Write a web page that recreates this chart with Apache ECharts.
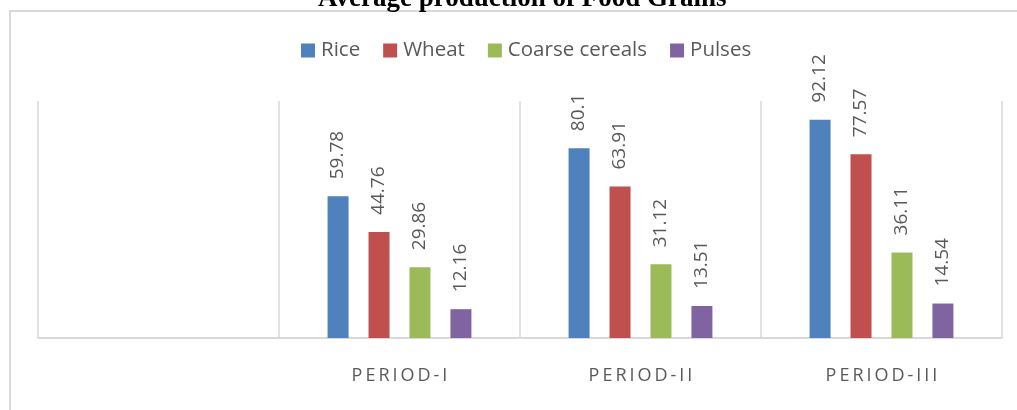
<!DOCTYPE html>
<html>
<head>
<meta charset="utf-8">
<script src="https://cdn.jsdelivr.net/npm/echarts@6/dist/echarts.min.js"></script>
<style>html,body{margin:0;padding:0;background:#fff;}#c{width:1017px;height:410px;}</style>
</head>
<body>
<div id="c"></div>
<script>
var categories = ['', 'PERIOD-I', 'PERIOD-II', 'PERIOD-III'];
var seriesNames = ['Rice', 'Wheat', 'Coarse cereals', 'Pulses'];
var rice = [null, 59.78, 80.1, 92.12];
var wheat = [null, 44.76, 63.91, 77.57];
var coarse = [null, 29.86, 31.12, 36.11];
var pulses = [null, 12.16, 13.51, 14.54];
var colors = ['#4f81bd', '#c0504d', '#9bbb59', '#8064a2'];
var allData = [rice, wheat, coarse, pulses];

var chart = echarts.init(document.getElementById('c'), null, {renderer: 'canvas'});
var series = seriesNames.map(function (name, i) {
  return {
    name: name,
    type: 'bar',
    data: allData[i],
    barWidth: 21,
    barGap: '95%',
    itemStyle: {color: colors[i]},
    label: {
      show: true,
      position: 'top',
      rotate: 90,
      align: 'left',
      verticalAlign: 'middle',
      distance: 17,
      color: '#595959',
      fontFamily: 'Open Sans',
      fontSize: 19
    }
  };
});

chart.setOption({
  animation: false,
  backgroundColor: '#fff',
  title: {
    text: 'Average production of Food Grains',
    left: 318,
    top: -14,
    padding: 0,
    textStyle: {fontFamily: 'Liberation Serif', fontWeight: 'bold', fontSize: 27, color: '#000'}
  },
  graphic: [{
    type: 'rect',
    shape: {x: 10, y: 11, width: 1030, height: 420},
    style: {fill: 'none', stroke: '#d9d9d9', lineWidth: 2},
    silent: true
  }],
  legend: {
    data: seriesNames,
    top: 35,
    left: 296,
    itemWidth: 14,
    itemHeight: 14,
    itemGap: 23,
    icon: 'rect',
    textStyle: {fontFamily: 'Open Sans', fontSize: 20.5, color: '#595959', padding: [0, 0, 0, 1]}
  },
  grid: {left: 38, right: 15, top: 101, bottom: 72, containLabel: false},
  xAxis: {
    type: 'category',
    data: categories,
    boundaryGap: true,
    axisLine: {show: true, lineStyle: {color: '#d9d9d9', width: 2}},
    axisTick: {show: false},
    splitLine: {show: true, lineStyle: {color: '#d9d9d9', width: 1.5}},
    axisLabel: {
      margin: 29,
      color: '#595959',
      fontFamily: 'Open Sans',
      fontSize: 18,
      formatter: function (v) { return v.split('').join('\u2009'); }
    }
  },
  yAxis: {
    type: 'value',
    min: 0,
    max: 100,
    show: false,
    splitLine: {show: false}
  },
  series: series
});
</script>
</body>
</html>
